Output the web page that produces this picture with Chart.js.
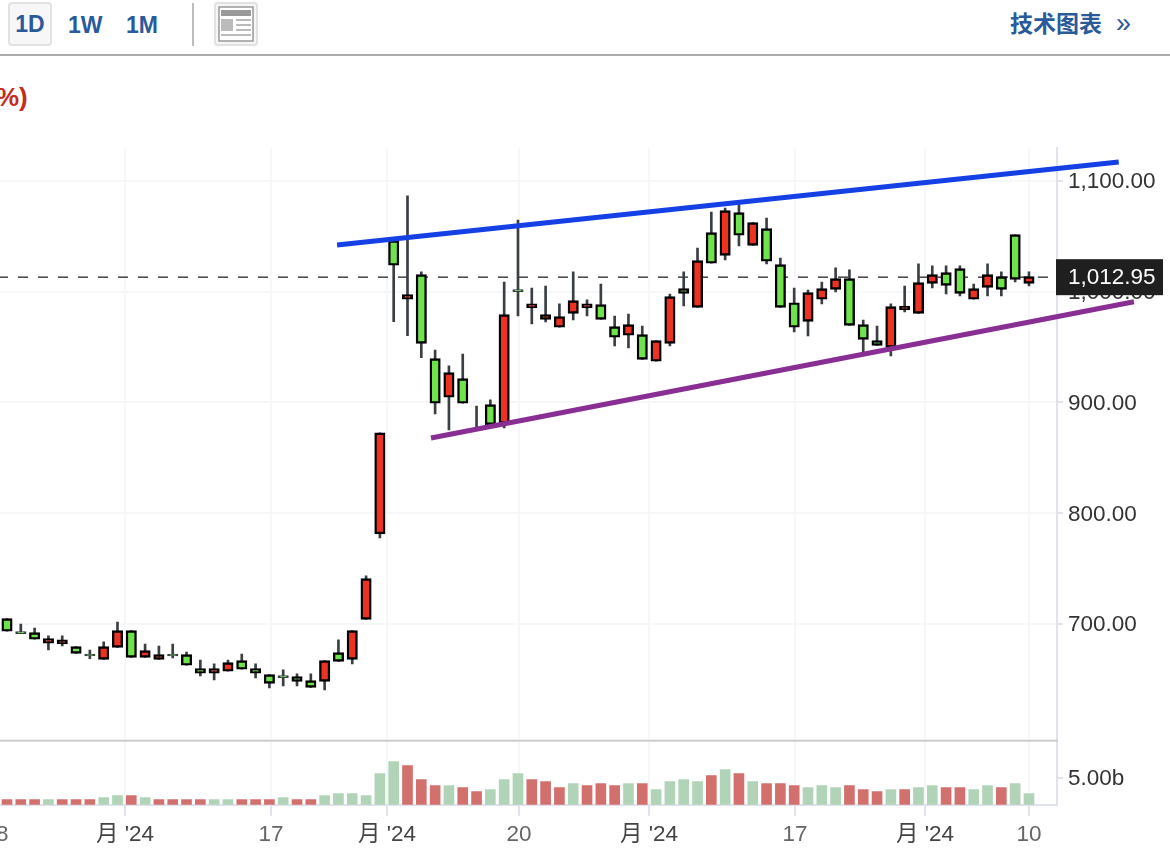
<!DOCTYPE html>
<html lang="zh">
<head>
<meta charset="utf-8">
<title>技术图表</title>
<script src="https://cdn.jsdelivr.net/npm/chart.js@4/dist/chart.umd.min.js"></script>
<style>
  html, body { margin: 0; padding: 0; background: #fff; width: 1170px; height: 866px; overflow: hidden; }
  body { position: relative; font-family: 'Liberation Sans', 'Noto Sans CJK SC', sans-serif; }
  #chart { position: absolute; left: -40px; top: 0; }
  .tab { position: absolute; top: 12px; font-size: 23px; line-height: 27px; font-weight: 700; color: #2a5a9a; }
  #tab-1d { left: 8px; top: 2px; width: 40px; height: 40px; line-height: 41px; text-align: center; border: 2px solid #e2e2e2; border-radius: 4px; background: #f7f7f7; }
  #tab-1w { left: 68px; }
  #tab-1m { left: 126px; }
  #sep { position: absolute; left: 192px; top: 3px; width: 2px; height: 43px; background: #bdbdbd; }
  #news { position: absolute; left: 214px; top: 2px; width: 40px; height: 40px; border: 2px solid #e2e2e2; border-radius: 4px; background: #f5f5f5; }
  #rule { position: absolute; left: 0; top: 54px; width: 1170px; height: 2px; background: #aaa; }
  #pct { position: absolute; left: -4px; top: 82px; font-size: 26px; line-height: 30px; font-weight: 700; color: #c42d1c; }
  #tech { position: absolute; left: 1010px; top: 10px; font-size: 23px; line-height: 29px; font-weight: 700; color: #2a5a9a; white-space: nowrap; }
  #tech span { position: absolute; left: 106px; top: -1px; font-size: 27px; font-weight: 400; }
</style>
</head>
<body>
<div class="tab" id="tab-1d">1D</div>
<div class="tab" id="tab-1w">1W</div>
<div class="tab" id="tab-1m">1M</div>
<div id="sep"></div>
<div id="news">
  <svg width="40" height="40" viewBox="0 0 40 40">
    <rect x="3" y="3" width="34" height="34" fill="#fff" stroke="#999" stroke-width="1.5"/>
    <rect x="5" y="6" width="30" height="6" fill="#999"/>
    <rect x="5" y="15" width="12" height="12" fill="#bbb"/>
    <rect x="20" y="15" width="15" height="2" fill="#bbb"/>
    <rect x="20" y="20" width="15" height="2" fill="#bbb"/>
    <rect x="20" y="25" width="15" height="2" fill="#bbb"/>
    <rect x="5" y="30" width="30" height="2" fill="#bbb"/>
  </svg>
</div>
<div id="rule"></div>
<div id="pct">%)</div>
<div id="tech">技术图表<span>»</span></div>
<canvas id="chart" width="1210" height="866" style="width:1210px;height:866px"></canvas>

<script>
'use strict';

// ─── Data ───────────────────────────────────────────────────────────────────
const opens = [
  704.6, 692.9, 692.0, 682.4, 681.7, 679.3, 672.7, 667.9, 678.7, 693.8,
  669.7, 667.9, 672.7, 672.1, 659.5, 655.3, 657.1, 666.7, 659.5, 654.1,
  653.2, 652.3, 648.6, 648.0, 673.9, 667.9, 704.0, 781.1, 1045.9, 993.0,
  1015.2, 939.4, 904.5, 921.3, 876.5, 897.9, 881.0, 1001.7, 985.2, 974.9,
  967.7, 980.3, 985.2, 988.2, 968.3, 960.5, 961.1, 937.0, 953.2, 1002.6,
  985.7, 1053.2, 1032.7, 1071.2, 1041.7, 1056.8, 1024.3, 989.9, 973.1, 993.0,
  1002.0, 1011.6, 970.1, 955.6, 949.6, 983.3, 980.3, 1007.4, 1017.1, 1020.7,
  993.0, 1003.8, 1013.4, 1051.4, 1007.4,
];
const closes = [
  693.2, 691.1, 686.0, 686.6, 685.4, 673.3, 670.9, 679.3, 693.8, 669.7,
  675.7, 672.1, 670.9, 662.5, 655.3, 659.5, 664.9, 658.9, 655.3, 646.2,
  651.4, 648.0, 642.6, 666.7, 666.1, 693.8, 740.7, 872.3, 1023.7, 997.2,
  953.2, 899.1, 926.7, 899.1, 874.7, 879.8, 979.1, 999.9, 988.8, 979.1,
  977.3, 991.8, 988.8, 974.9, 958.7, 970.1, 938.8, 955.6, 995.4, 998.4,
  1027.9, 1025.5, 1073.0, 1050.8, 1062.2, 1027.3, 985.7, 967.7, 999.0, 1002.6,
  1011.6, 969.5, 956.8, 951.4, 986.4, 986.9, 1008.0, 1015.2, 1005.6, 998.4,
  1002.6, 1015.2, 1002.0, 1011.0, 1013.4,
];
const highs = [
  704.6, 699.8, 696.2, 689.0, 689.0, 679.3, 676.3, 683.6, 701.6, 693.8,
  681.7, 679.9, 681.7, 674.5, 667.3, 663.7, 667.3, 672.7, 663.7, 654.1,
  658.3, 654.7, 654.7, 666.7, 685.4, 693.8, 743.2, 872.3, 1045.9, 1086.3,
  1017.7, 947.2, 932.8, 943.6, 896.6, 902.1, 1008.6, 1064.6, 1003.2, 1005.0,
  988.8, 1017.7, 992.4, 1006.8, 977.9, 979.7, 968.9, 955.6, 997.8, 1017.7,
  1039.3, 1071.8, 1075.4, 1079.7, 1062.2, 1066.4, 1030.3, 1003.2, 1001.4, 1008.6,
  1021.3, 1019.5, 974.3, 968.9, 988.8, 1005.0, 1024.9, 1023.1, 1023.1, 1023.1,
  1006.8, 1024.9, 1017.7, 1051.4, 1017.7,
];
const lows = [
  693.2, 691.1, 686.0, 676.3, 679.9, 673.3, 668.5, 667.9, 678.7, 669.7,
  669.7, 667.9, 669.1, 662.5, 652.9, 649.2, 657.1, 658.9, 651.0, 642.0,
  643.8, 643.8, 642.6, 640.2, 666.1, 663.7, 704.0, 777.5, 972.8, 960.2,
  940.3, 889.4, 875.0, 899.1, 874.7, 879.8, 876.8, 977.9, 970.7, 972.5,
  967.7, 974.3, 977.9, 974.9, 950.8, 949.0, 938.8, 937.0, 950.8, 986.9,
  985.7, 1025.5, 1028.5, 1041.1, 1041.7, 1024.9, 985.7, 963.5, 959.9, 988.8,
  999.6, 969.5, 944.8, 951.4, 941.8, 981.5, 980.3, 1003.2, 997.8, 996.0,
  993.0, 996.0, 996.0, 1008.6, 1005.0,
];
// volume in billions
const volumes = [
  0.93, 0.93, 0.93, 0.93, 0.93, 0.93, 0.93, 1.30, 1.67, 1.67,
  1.30, 0.93, 0.93, 0.93, 0.93, 0.93, 0.93, 0.93, 0.93, 0.93,
  1.30, 0.93, 0.93, 1.67, 2.04, 2.04, 1.67, 5.74, 7.96, 7.22,
  4.63, 3.52, 3.52, 3.15, 2.41, 2.78, 4.63, 5.74, 4.63, 4.26,
  3.15, 3.89, 3.52, 3.89, 3.52, 3.89, 3.89, 2.78, 4.26, 4.63,
  4.26, 5.37, 6.48, 5.74, 4.26, 3.89, 3.89, 3.52, 3.15, 3.52,
  3.15, 3.52, 2.78, 2.41, 2.78, 2.78, 3.15, 3.52, 3.15, 3.15,
  2.78, 3.52, 3.15, 3.89, 2.04,
];
// r = red volume bar, g = green volume bar (does not always follow the candle)
const volumeSides = [
  'r', 'r', 'r', 'g', 'r', 'r', 'r', 'g', 'g', 'r',
  'g', 'r', 'r', 'r', 'r', 'g', 'g', 'r', 'r', 'r',
  'g', 'r', 'r', 'g', 'g', 'g', 'g', 'g', 'g', 'r',
  'r', 'r', 'g', 'r', 'r', 'g', 'g', 'g', 'r', 'r',
  'r', 'g', 'r', 'r', 'r', 'g', 'r', 'g', 'g', 'g',
  'g', 'r', 'g', 'r', 'g', 'r', 'r', 'r', 'g', 'g',
  'g', 'r', 'r', 'r', 'g', 'r', 'g', 'g', 'r', 'r',
  'g', 'g', 'r', 'g', 'g',
];

const priceTicks = [700, 800, 900, 1000, 1100];
const volumeTicks = [5];
const dateTicks  = [-0.8, 8.54, 19.12, 27.52, 37.07, 46.49, 57.06, 66.47, 74];
const dateLabels = ['18', "月 '24", '17', "月 '24", '20', "月 '24", '17', "月 '24", '10'];

const lastPrice = 1012.95;
const blueTrendX  = [23.9, 80.5];
const blueTrendY  = [1042.0, 1117.0];
const purpleTrendX = [30.7, 81.6];
const purpleTrendY = [867.8, 990.8];

// ─── Colours ────────────────────────────────────────────────────────────────
const UP_FILL   = '#ec3323';
const DOWN_FILL = '#6fe34b';
const WICK      = '#3a3f44';
const VOL_RED   = '#d2706e';
const VOL_GREEN = '#b1d4b8';
const GRID      = '#f6f7f9';
const AXIS      = '#e0e3eb';
const FONT      = "'Liberation Sans', 'Noto Sans CJK SC', sans-serif";

const idx = opens.map((_, i) => i);

// y axis strip has a fixed width so the plot ends where the reference does
function fixWidth(scale) { scale.width = 113; }

// ─── Pane separator and last price tag ─────────────────────────────────────
const panelPlugin = {
  id: 'panelPlugin',
  afterDraw(chart) {
    const { ctx, chartArea, scales } = chart;
    ctx.save();
    ctx.fillStyle = '#cccccc';
    ctx.fillRect(chartArea.left, scales.y.bottom - 1, chartArea.right - chartArea.left + 1, 2);

    const yp = scales.y.getPixelForValue(lastPrice);
    ctx.fillStyle = '#1f1f1f';
    ctx.fillRect(chartArea.right - 1, yp - 18, 107, 36);
    ctx.fillStyle = '#ffffff';
    ctx.font = '22.5px ' + FONT;
    ctx.textAlign = 'left';
    ctx.textBaseline = 'middle';
    ctx.fillText(lastPrice.toLocaleString('en-US', { minimumFractionDigits: 2 }), chartArea.right + 11, yp + 1);
    ctx.restore();
  },
};

new Chart(document.getElementById('chart'), {
  data: {
    datasets: [
      {
        type: 'line', label: 'last', order: 10, yAxisID: 'y', clip: false,
        data: [{ x: -3.55, y: lastPrice }, { x: 76.03, y: lastPrice }],
        borderColor: '#444444', borderWidth: 1.5, borderDash: [10, 10], pointRadius: 0,
      },
      {
        type: 'bar', label: 'wick', order: 6, yAxisID: 'y', grouped: false,
        data: idx.map(i => ({ x: i, y: [lows[i], highs[i]] })),
        backgroundColor: WICK, barThickness: 2, borderWidth: 0,
      },
      {
        type: 'bar', label: 'body', order: 5, yAxisID: 'y', grouped: false,
        data: idx.map(i => ({ x: i, y: [opens[i], closes[i]] })),
        backgroundColor: c => (closes[c.dataIndex] >= opens[c.dataIndex] ? UP_FILL : DOWN_FILL),
        borderColor: c => (Math.abs(closes[c.dataIndex] - opens[c.dataIndex]) < 2 ? WICK : '#000000'),
        borderWidth: 2.4, borderSkipped: false, barThickness: 10.4,
      },
      {
        type: 'bar', label: 'volume', order: 5, yAxisID: 'yv', grouped: false,
        data: idx.map(i => ({ x: i, y: volumes[i] })),
        backgroundColor: c => (volumeSides[c.dataIndex] === 'r' ? VOL_RED : VOL_GREEN),
        borderWidth: 0, barThickness: 10,
      },
      {
        type: 'line', label: 'blue trend', order: 1, yAxisID: 'y', clip: false,
        data: blueTrendX.map((x, i) => ({ x, y: blueTrendY[i] })),
        borderColor: '#1440e6', borderWidth: 5, pointRadius: 0,
      },
      {
        type: 'line', label: 'purple trend', order: 1, yAxisID: 'y', clip: false,
        data: purpleTrendX.map((x, i) => ({ x, y: purpleTrendY[i] })),
        borderColor: '#892f94', borderWidth: 5, pointRadius: 0,
      },
    ],
  },
  options: {
    responsive: false,
    animation: false,
    layout: { padding: { top: 148, left: 0, right: 0, bottom: 0 } },
    plugins: { legend: { display: false }, tooltip: { enabled: false } },
    scales: {
      x: {
        type: 'linear',
        offset: false,
        min: -3.403,
        max: 76.03,
        afterBuildTicks: s => { s.ticks = dateTicks.map(v => ({ value: v })); },
        afterFit: s => { s.height = 61.3; },
        grid: { offset: false, color: GRID, lineWidth: 2, tickColor: AXIS, tickLength: 11 },
        border: { color: AXIS, width: 2 },
        ticks: {
          autoSkip: false, maxRotation: 0, padding: 6,
          font: { family: FONT, size: 22.5 },
          color: c => (dateLabels[c.index].length > 2 ? '#444444' : '#666666'),
          callback: (v, i) => dateLabels[i],
        },
      },
      y: {
        type: 'linear',
        position: 'right',
        stack: 'panes',
        stackWeight: 592.7,
        weight: 0,
        min: 594.4,
        max: 1129.6,
        afterBuildTicks: s => { s.ticks = priceTicks.map(v => ({ value: v })); },
        afterFit: fixWidth,
        grid: { color: GRID, lineWidth: 2, tickColor: AXIS, tickLength: 6 },
        border: { color: AXIS, width: 2 },
        ticks: {
          padding: 5, color: '#333333', labelOffset: 1.5,
          font: { family: FONT, size: 22.5 },
          callback: v => v.toLocaleString('en-US', { minimumFractionDigits: 2 }),
        },
      },
      yv: {
        type: 'linear',
        position: 'right',
        stack: 'panes',
        stackWeight: 64,
        weight: 1,
        min: 0,
        max: 11.8,
        afterBuildTicks: s => { s.ticks = volumeTicks.map(v => ({ value: v })); },
        afterFit: fixWidth,
        grid: { drawOnChartArea: false, tickColor: AXIS, tickLength: 6, lineWidth: 2 },
        border: { color: AXIS, width: 2 },
        ticks: {
          padding: 5, color: '#333333', labelOffset: 1,
          font: { family: FONT, size: 22.5 },
          callback: v => v.toFixed(2) + 'b',
        },
      },
    },
  },
  plugins: [panelPlugin],
});
</script>
</body>
</html>
